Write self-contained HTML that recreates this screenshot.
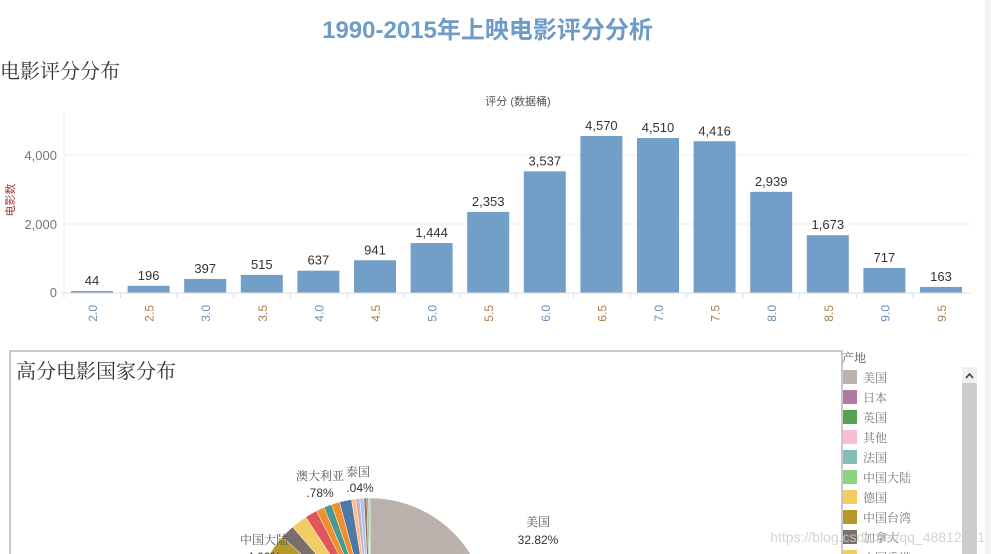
<!DOCTYPE html>
<html><head><meta charset="utf-8">
<style>
body{margin:0;width:991px;height:554px;overflow:hidden;background:#fff;font-family:"Liberation Sans","Noto Sans CJK SC",sans-serif;position:relative}
.a{position:absolute;white-space:nowrap}
</style></head><body>
<div class="a" style="left:0;width:975px;top:10px;text-align:center;font-size:24px;font-weight:bold;color:#6f9cc6">1990-2015年上映电影评分分析</div>
<div class="a" style="left:0;top:55px;font-size:20px;color:#333;font-family:'Noto Serif CJK SC',serif">电影评分分布</div>
<div style="position:absolute;right:0;top:0;width:6px;height:554px;background:#f2f2f2"></div>
<svg id="s" width="991" height="554" style="position:absolute;left:0;top:0;overflow:hidden" font-family="Liberation Sans, Noto Sans CJK SC, sans-serif"></svg>
<script>
var s=document.getElementById('s'),h='';
h+='<text x="518" y="105" font-size="11" fill="#555" text-anchor="middle">评分 (数据桶)</text>';
h+='<text transform="translate(14,200) rotate(-90)" font-size="11" fill="#a04040" text-anchor="middle">电影数</text>';
h+='<line x1="64" y1="111" x2="64" y2="296" stroke="#eee"/>';
h+='<line x1="64" y1="155" x2="970" y2="155" stroke="#eee"/><line x1="64" y1="224" x2="970" y2="224" stroke="#eee"/>';
h+='<line x1="60" y1="293" x2="970" y2="293" stroke="#ddd"/>';
[['4,000',155],['2,000',224],['0',292]].forEach(function(t){h+='<text x="57" y="'+(t[1]+5)+'" font-size="13" fill="#777" text-anchor="end">'+t[0]+'</text>';});
var v=[44,196,397,515,637,941,1444,2353,3537,4570,4510,4416,2939,1673,717,163];
v.forEach(function(n,i){var x=71+i*56.6,hh=n*0.03425,y=292.5-hh;
h+='<rect x="'+x+'" y="'+y+'" width="42" height="'+hh+'" fill="#729fc7"/>';
h+='<text x="'+(x+21)+'" y="'+(y-6)+'" font-size="13" fill="#333" text-anchor="middle">'+n.toLocaleString('en-US')+'</text>';
h+='<line x1="'+(x-7)+'" y1="294" x2="'+(x-7)+'" y2="298" stroke="#ddd"/>';
var lab=(2+i*0.5).toFixed(1);
h+='<text transform="translate('+(x+26)+',305) rotate(-90)" font-size="12" fill="'+(i%2?'#b07c4a':'#6b8fb5')+'" text-anchor="end">'+lab+'</text>';});
h+='<path d="M10,554 V351 H842 V554" fill="none" stroke="#c8c8c8" stroke-width="2"/>';
h+='<text x="16" y="378" font-size="20" fill="#333" font-family="Noto Serif CJK SC,serif">高分电影国家分布</text>';
var cx=370,cy=616,r=118;
function P(a){a=(a-90)*Math.PI/180;return [cx+r*Math.cos(a),cy+r*Math.sin(a)];}
var sl=[[0,118,'#bab0ac'],[118,180,'#b07aa1'],[180,230,'#59a14f'],[230,262,'#f9bcd2'],[262,280,'#86bcb6'],[280,286,'#8cd17d'],[286,302,'#f1ce63'],[302,312,'#b6992d'],[312,319,'#79706e'],[319,327,'#f1ce63'],[327,333,'#e15759'],[333,337,'#f28e2b'],[337,341,'#499894'],[341,345,'#f28e2b'],[345,351,'#4e79a7'],[351,353,'#ffbe7d'],[353,355,'#d4a6c8'],[355,357,'#a0cbe8'],[357,358.5,'#9d7660'],[358.5,359.3,'#59a14f'],[359.3,360,'#ff9d9a']];
sl.forEach(function(q){var a=P(q[0]),b=P(q[1]);h+='<path d="M'+cx+','+cy+'L'+a[0]+','+a[1]+'A'+r+','+r+' 0 '+(q[1]-q[0]>180?1:0)+' 1 '+b[0]+','+b[1]+'Z" fill="'+q[2]+'" stroke="#fff" stroke-width="0.5"/>';});
var L=[['澳大利亚',320,480,'#555'],['.78%',320,497,'#333'],['泰国',358,476,'#555'],['.04%',360,492,'#333'],['美国',538,526,'#555'],['32.82%',538,544,'#333'],['中国大陆',264,544,'#555'],['4.66%',264,561,'#333']];
L.forEach(function(t){h+='<text x="'+t[1]+'" y="'+t[2]+'" font-size="12" fill="'+t[3]+'" text-anchor="middle"'+(/%/.test(t[0])?'':' font-family="Noto Serif CJK SC,serif"')+'>'+t[0]+'</text>';});
h+='<text x="842" y="362" font-size="12" fill="#555" font-family="Noto Serif CJK SC,serif">产地</text>';
var lg=[['美国','#bab0ac'],['日本','#b07aa1'],['英国','#59a14f'],['其他','#f9bcd2'],['法国','#86bcb6'],['中国大陆','#8cd17d'],['德国','#f1ce63'],['中国台湾','#b6992d'],['加拿大','#79706e'],['中国香港','#f1ce63']];
lg.forEach(function(t,i){var y=370+i*20;h+='<rect x="843" y="'+y+'" width="14" height="14" fill="'+t[1]+'"/><text x="863" y="'+(y+12)+'" font-size="12" fill="#777" font-family="Noto Serif CJK SC,serif">'+t[0]+'</text>';});
h+='<rect x="962" y="367" width="15" height="187" fill="#cdcdcd"/><rect x="962" y="367" width="15" height="16" fill="#f0f0f0"/><path d="M966,378 L969.5,374 L973,378" fill="none" stroke="#333" stroke-width="1.5"/>';
h+='<text x="985" y="542" font-size="14" fill="#cccccc" fill-opacity="0.85" text-anchor="end">https://blog.csdn.net/qq_48812571</text>';
s.innerHTML=h;
</script>
</body></html>
